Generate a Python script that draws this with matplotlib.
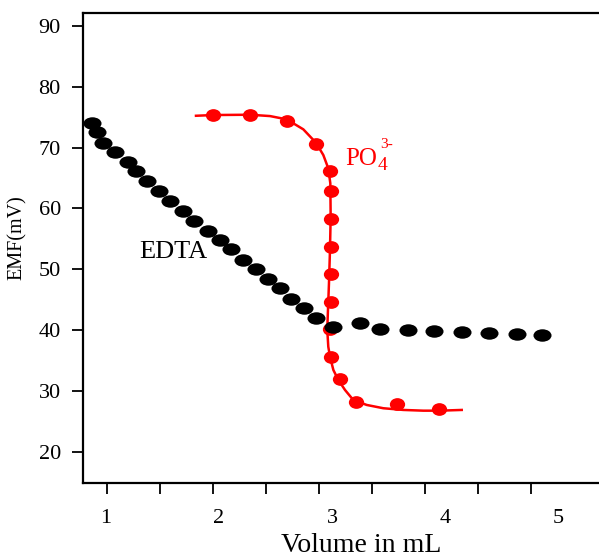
import matplotlib
matplotlib.use("Agg")
import matplotlib.pyplot as plt
from matplotlib.path import Path
from matplotlib.transforms import Affine2D

plt.rcParams['font.family'] = ['Liberation Serif', 'DejaVu Serif']

# EDTA titration points (volume in mL, EMF in mV)
edta_x = [0.873, 0.923, 0.976, 1.080, 1.192, 1.265, 1.365, 1.472, 1.566, 1.679,
          1.779, 1.900, 2.009, 2.106, 2.215, 2.327, 2.436, 2.540, 2.637, 2.749,
          2.862, 3.012, 3.248, 3.425, 3.670, 3.903, 4.148, 4.389, 4.635, 4.861]
edta_y = [74.07, 72.50, 70.79, 69.21, 67.67, 66.14, 64.55, 62.86, 61.26, 59.62,
          57.93, 56.34, 54.81, 53.33, 51.53, 50.00, 48.36, 46.88, 45.09, 43.60,
          42.00, 40.57, 41.13, 40.20, 40.08, 39.92, 39.75, 39.59, 39.38, 39.21]

# phosphate titration points
po4_x = [1.950, 2.274, 2.599, 2.858, 2.978, 2.991, 2.991, 2.991, 2.991, 2.991,
         2.982, 2.988, 3.071, 3.212, 3.573, 3.950]
po4_y = [75.34, 75.34, 74.43, 70.62, 66.14, 62.86, 58.34, 53.71, 49.20, 44.68,
         40.15, 35.65, 31.94, 28.26, 27.83, 27.01]

# drawn curve through the phosphate points
curve_x = [1.796, 1.950, 2.274, 2.451, 2.599, 2.746, 2.858, 2.923, 2.967, 2.985,
           2.988, 2.982, 2.973, 2.962, 2.958, 2.967, 2.982, 3.012, 3.056, 3.115,
           3.188, 3.307, 3.454, 3.631, 3.808, 3.956, 4.148]
curve_y = [75.22, 75.34, 75.39, 75.17, 74.63, 72.99, 70.79, 68.77, 66.58, 64.12,
           58.64, 53.17, 47.70, 42.22, 40.03, 37.29, 35.65, 33.46, 31.82, 30.18,
           28.54, 27.72, 27.18, 26.90, 26.78, 26.78, 26.90]

x_labels = [1, 2, 3, 4, 5]
x_tick_pos = [1.009, 1.478, 1.947, 2.416, 2.885, 3.354, 3.823, 4.292, 4.761]
y_ticks = [20, 30, 40, 50, 60, 70, 80, 90]

black_dot = Path.unit_circle().transformed(Affine2D().scale(1.45, 1.0))
red_dot = Path.unit_circle().transformed(Affine2D().scale(1.2, 1.0))

fig = plt.figure(figsize=(5.99, 5.57), dpi=100)
ax = fig.add_axes([83 / 599, 1 - 483 / 557, 1 - 83 / 599, (483 - 13) / 557])

ax.plot(curve_x, curve_y, color='#ff0000', lw=1.8, zorder=2)
ax.plot(po4_x, po4_y, ls='none', marker=red_dot, ms=11, color='#ff0000',
        mec='none', zorder=3)
ax.plot(edta_x, edta_y, ls='none', marker=black_dot, ms=13, color='black',
        mec='none', zorder=4)

ax.text(1.593, 52.84, 'EDTA', fontsize=19, ha='center', va='center')

# PO4 3- label built from pieces so the charge keeps a plain hyphen
red = '#ff0000'
ax.text(3.115, 67.13, 'PO', fontsize=18, color=red, ha='left', va='baseline')
ax.annotate('4', (3.115, 67.13), xytext=(23.5, -3.8), textcoords='offset points',
            fontsize=14, color=red, ha='left', va='baseline')
ax.annotate('3-', (3.115, 67.13), xytext=(25, 12), textcoords='offset points',
            fontsize=11, color=red, ha='left', va='baseline')

ax.set_xlim(0.796, 5.363)
ax.set_ylim(14.9, 92.1)

ax.set_xticks(x_tick_pos)
ax.set_xticklabels([])
ax.set_xticks(x_labels, minor=True)
ax.set_xticklabels([str(v) for v in x_labels], minor=True)
ax.tick_params(axis='x', which='major', length=8, width=1.3, direction='out')
ax.tick_params(axis='x', which='minor', length=0, pad=19, labelsize=16)

ax.set_yticks(y_ticks)
ax.tick_params(axis='y', length=8, width=1.3, pad=8, labelsize=16)

for side in ['left', 'bottom', 'top']:
    ax.spines[side].set_linewidth(1.6)
ax.spines['right'].set_visible(False)

fig.text(361 / 599, 1 - 545 / 557, 'Volume in mL', fontsize=20,
         ha='center', va='center')
fig.text(17 / 599, 1 - 238 / 557, 'EMF(mV)', fontsize=14.5, rotation=90,
         ha='center', va='center')

fig.savefig('out.png', dpi=100)
